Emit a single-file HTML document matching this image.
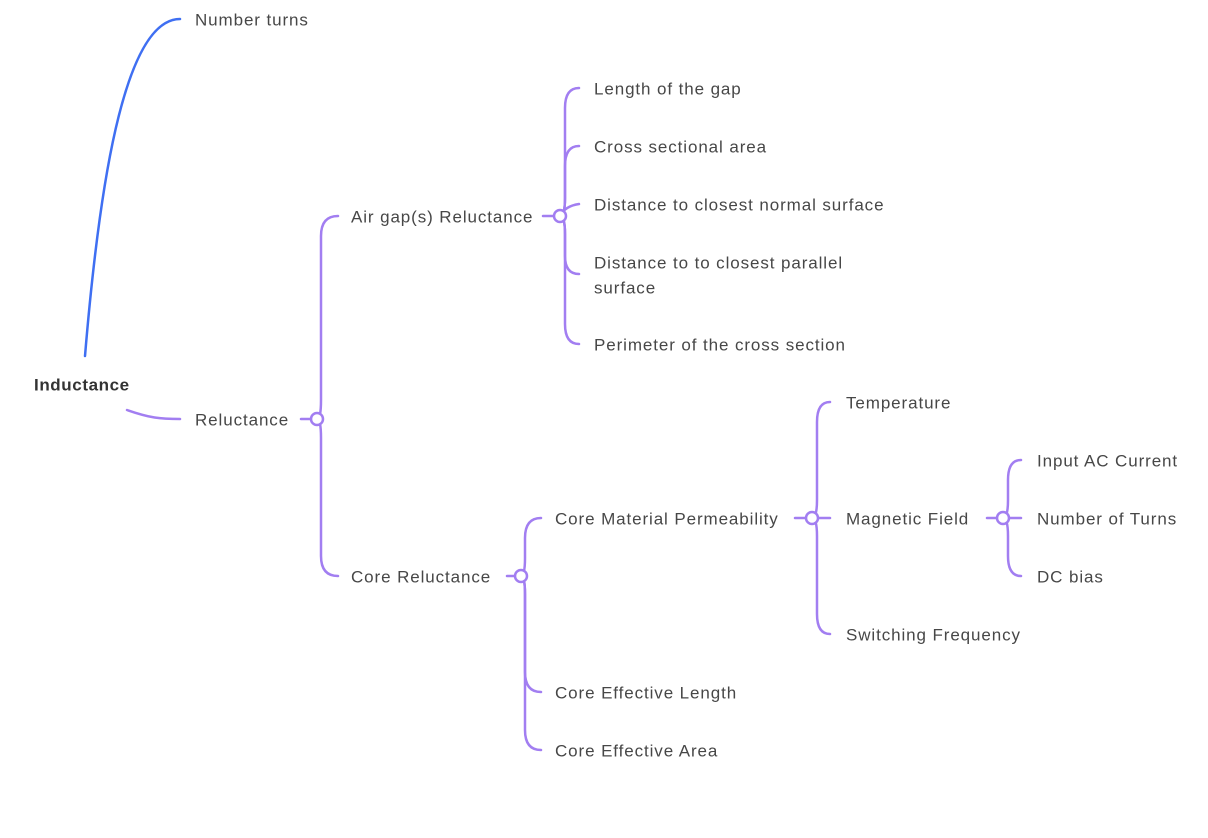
<!DOCTYPE html>
<html><head><meta charset="utf-8"><style>
html,body{margin:0;padding:0;background:#fff;}
svg{display:block;}
text{font-family:"Liberation Sans",sans-serif;font-size:17px;letter-spacing:0.9px;fill:#474747;dominant-baseline:middle;}
</style></head><body>
<svg width="1208" height="838" viewBox="0 0 1208 838" xmlns="http://www.w3.org/2000/svg">
<g fill="none" stroke-width="2.5" stroke-linecap="round">
<path d="M85,356 C98,200 122,19 180,19" stroke="#3f6ff2"/>
<g stroke="#a27ef1">
<path d="M127,410 C150,418 160,419 180,419"/>
<path d="M301,419 L311,419"/>
<path d="M317,419 Q321,419 321,400 L321,236 Q321,216 338,216"/>
<path d="M317,419 Q321,419 321,438 L321,556 Q321,576 338,576"/>
<path d="M543,216 L554,216"/>
<path d="M560,216 Q565,216 565,198 L565,108 Q565,88 579,88"/>
<path d="M560,216 Q565,216 565,198 L565,166 Q565,146 579,146"/>
<path d="M560,216 Q565,206 579,204"/>
<path d="M560,216 Q565,216 565,234 L565,256 Q565,274 579,274"/>
<path d="M560,216 Q565,216 565,234 L565,324 Q565,344 579,344"/>
<path d="M507,576 L515,576"/>
<path d="M521,576 Q525,576 525,558 L525,538 Q525,518 541,518"/>
<path d="M521,576 Q525,576 525,594 L525,672 Q525,692 541,692"/>
<path d="M521,576 Q525,576 525,594 L525,730 Q525,750 541,750"/>
<path d="M795,518 L806,518"/>
<path d="M812,518 Q817,518 817,500 L817,422 Q817,402 830,402"/>
<path d="M818,518 L830,518"/>
<path d="M812,518 Q817,518 817,536 L817,614 Q817,634 830,634"/>
<path d="M987,518 L997,518"/>
<path d="M1003,518 Q1008,518 1008,500 L1008,480 Q1008,460 1021,460"/>
<path d="M1009,518 L1021,518"/>
<path d="M1003,518 Q1008,518 1008,536 L1008,556 Q1008,576 1021,576"/>
</g>
<g stroke="#a27ef1" fill="#fff" stroke-width="2.5">
<circle cx="317" cy="419" r="6"/>
<circle cx="560" cy="216" r="6"/>
<circle cx="521" cy="576" r="6"/>
<circle cx="812" cy="518" r="6"/>
<circle cx="1003" cy="518" r="6"/>
</g>
</g>
<text x="34" y="386" style="font-weight:bold;fill:#333;letter-spacing:0.6px">Inductance</text>
<text x="195" y="21">Number turns</text>
<text x="195" y="421">Reluctance</text>
<text x="351" y="218">Air gap(s) Reluctance</text>
<text x="351" y="578">Core Reluctance</text>
<text x="594" y="90">Length of the gap</text>
<text x="594" y="148">Cross sectional area</text>
<text x="594" y="206">Distance to closest normal surface</text>
<text x="594" y="264">Distance to to closest parallel</text>
<text x="594" y="289">surface</text>
<text x="594" y="346">Perimeter of the cross section</text>
<text x="555" y="520">Core Material Permeability</text>
<text x="555" y="694">Core Effective Length</text>
<text x="555" y="752">Core Effective Area</text>
<text x="846" y="404">Temperature</text>
<text x="846" y="520">Magnetic Field</text>
<text x="846" y="636">Switching Frequency</text>
<text x="1037" y="462">Input AC Current</text>
<text x="1037" y="520">Number of Turns</text>
<text x="1037" y="578">DC bias</text>
</svg>
</body></html>
